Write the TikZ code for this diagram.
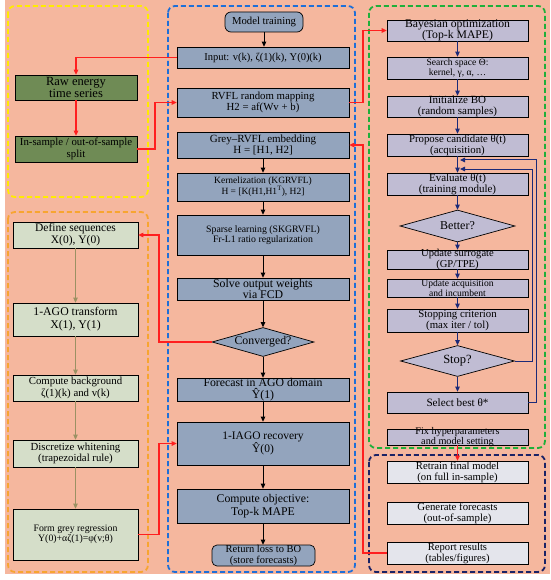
\documentclass[tikz,border=0pt]{standalone}
\usepackage{fontspec}
\setmainfont{Liberation Serif}
\usetikzlibrary{arrows.meta,shapes.geometric,calc}
\definecolor{bgsal}{HTML}{F5B79E}
\definecolor{dgreen}{HTML}{6F8B55}
\definecolor{lgreen}{HTML}{D5DEC9}
\definecolor{mblue}{HTML}{93A4BD}
\definecolor{lav}{HTML}{C0BCD3}
\definecolor{lgrey}{HTML}{E4E5EC}
\definecolor{yelc}{HTML}{FFEB00}
\definecolor{bluec}{HTML}{1E6FD8}
\definecolor{greenc}{HTML}{1FAF3A}
\definecolor{orangec}{HTML}{F7A531}
\definecolor{navyc}{HTML}{1A2366}
\definecolor{redc}{HTML}{FF1F1F}
\definecolor{navyarr}{HTML}{1B2A78}
\definecolor{olivec}{HTML}{9B9163}
\newcommand{\fsz}[2]{\fontsize{#1}{#2}\selectfont}
\begin{document}
\begin{tikzpicture}[x=1pt,y=-1pt,
  bx/.style={draw=black, line width=0.7pt, rectangle, align=center, inner sep=0.5pt, text=black},
  dgbox/.style={bx, fill=dgreen, minimum width=122pt},
  lgbox/.style={bx, fill=lgreen, minimum width=125pt},
  mbbox/.style={bx, fill=mblue, minimum width=172pt},
  lvbox/.style={bx, fill=lav, minimum width=141pt},
  lgrbox/.style={bx, fill=lgrey, minimum width=141pt},
  txt/.style={align=center, inner sep=0pt, text=black},
  region/.style={dashed, dash pattern=on 5pt off 3pt, line width=1.8pt, rounded corners=7pt},
  redarr/.style={draw=redc, line width=1.1pt, -{Triangle[length=5pt,width=4.5pt]}},
  blkarr/.style={draw=black, line width=1pt, -{Triangle[length=5pt,width=4.5pt]}},
  navarr/.style={draw=navyarr, line width=1pt, -{Triangle[length=5pt,width=4.5pt]}},
  olarr/.style={draw=olivec, line width=1pt, -{Triangle[length=5pt,width=4.5pt]}},
  dia/.style={draw=black, line width=0.7pt, diamond, aspect=3.5, inner sep=0pt, text=black}
]
\useasboundingbox (0,0) rectangle (550,580);
\fill[white] (0,0) rectangle (550,580);
\fill[bgsal] (5,0) rectangle (550,574);

% regions
\draw[region, draw=yelc] (8,6) rectangle (148,197);
\draw[region, draw=orangec] (8,212) rectangle (148,572);
\draw[region, draw=bluec] (168,6) rectangle (355,572);
\draw[region, draw=greenc] (369,6) rectangle (545,448);
\draw[region, draw=navyc] (369,455) rectangle (545,572);

% coordinates for red routing
\coordinate (rx) at (363,0);
\coordinate (lx) at (159,0);
\coordinate (sx) at (155,0);

% left column
\node[dgbox, minimum height=25pt, font={\fsz{12.5}{12.5}}] (raw) at (76,87.5) {Raw energy\\time series};
\node[dgbox, minimum height=26pt, font={\fsz{10.8}{11.5}}] (split) at (76,149) {In-sample / out-of-sample\\split};

\node[lgbox, minimum height=26pt, font={\fsz{11.5}{12}}] (def) at (75.5,235) {Define sequences\\X(0), Y(0)};
\node[lgbox, minimum height=33pt, font={\fsz{11.8}{13}}] (ago) at (75.5,319.5) {1-AGO transform\\X(1), Y(1)};
\node[lgbox, minimum height=26pt, font={\fsz{10.8}{11.5}}] (bg) at (75.5,388) {Compute background\\ζ(1)(k) and v(k)};
\node[lgbox, minimum height=27pt, font={\fsz{10.8}{11.5}}] (disc) at (75.5,453.5) {Discretize whitening\\(trapezoidal rule)};
\node[lgbox, minimum height=51pt, font={\fsz{9.8}{10.5}}] (form) at (75.5,534.5) {Form grey regression\\Y(0)+αζ(1)=φ(v;θ)};

% middle column
\node[bx, fill=mblue, rounded corners=6pt, minimum width=78pt, minimum height=20pt, font={\fsz{10.7}{11}}] (mt) at (264,22) {Model training};
\node[mbbox, minimum height=21pt, font={\fsz{10.5}{11}}] (input) at (263,57.5) {Input: v(k), ζ(1)(k), Y(0)(k)};
\node[mbbox, minimum height=29pt, font={\fsz{10.8}{11.5}}] (rvfl) at (263,102.5) {RVFL random mapping\\H2 = af(Wv + b)};
\node[mbbox, minimum height=26pt, font={\fsz{11}{11.5}}] (grey) at (263,145) {Grey–RVFL embedding\\H = [H1, H2]};
\node[mbbox, minimum height=28pt, font={\fsz{9.5}{11}}] (kern) at (263,187) {Kernelization (KGRVFL)\\H = [K(H1,H1\textsuperscript{T}), H2]};
\node[mbbox, minimum height=40pt, font={\fsz{9.8}{10.5}}] (sparse) at (263,235) {Sparse learning (SKGRVFL)\\Fr-L1 ratio regularization};
\node[mbbox, minimum height=22pt] (solve) at (263,289) {};
\node[txt, font={\fsz{11.8}{11.5}}] (solveT) at (solve) {Solve output weights\\via FCD};
\node[dia, fill=mblue, minimum width=102pt, minimum height=29pt, font={\fsz{11.8}{12}}] (conv) at (263,342) {Converged?};
\node[mbbox, minimum height=23pt] (fore) at (263,389.5) {};
\node[txt, font={\fsz{11.8}{11.5}}] (foreT) at (fore) {Forecast in AGO domain\\Ŷ(1)};
\node[mbbox, minimum height=43pt, font={\fsz{11.5}{12.5}}] (iago) at (263,443.5) {1-IAGO recovery\\Ŷ(0)};
\node[mbbox, minimum height=34pt, font={\fsz{11.8}{13}}] (comp) at (263,506) {Compute objective:\\Top-k MAPE};
\node[bx, fill=mblue, rounded corners=5pt, minimum width=103pt, minimum height=21pt] (ret) at (263.5,555.5) {};
\node[txt, font={\fsz{10.5}{10.5}}] (retT) at (ret) {Return loss to BO\\(store forecasts)};

% right column
\node[lvbox, minimum height=21pt] (bo) at (457.5,30.5) {};
\node[txt, font={\fsz{11.7}{11.5}}] (boT) at (bo) {Bayesian optimization\\(Top-k MAPE)};
\node[lvbox, minimum height=22pt, font={\fsz{9.6}{10.5}}] (ss) at (457.5,68) {Search space Θ:\\kernel, γ, α, …};
\node[lvbox, minimum height=21pt] (init) at (457.5,106.5) {};
\node[txt, font={\fsz{11}{11}}] (initT) at (init) {Initialize BO\\(random samples)};
\node[lvbox, minimum height=22pt] (prop) at (457.5,145) {};
\node[txt, font={\fsz{10.8}{11}}] (propT) at (prop) {Propose candidate θ(t)\\(acquisition)};
\node[lvbox, minimum height=22pt] (eval) at (457.5,184) {};
\node[txt, font={\fsz{11}{11}}] (evalT) at (eval) {Evaluate θ(t)\\(training module)};
\node[dia, fill=lav, minimum width=115pt, minimum height=32pt, font={\fsz{12}{12}}] (better) at (457.5,226) {Better?};
\node[lvbox, minimum height=19pt] (us) at (457.5,259.5) {};
\node[txt, font={\fsz{10.6}{10.5}}] (usT) at (us) {Update surrogate\\(GP/TPE)};
\node[lvbox, minimum height=18pt] (ua) at (457.5,288) {};
\node[txt, font={\fsz{9.6}{9.8}}] (uaT) at (ua) {Update acquisition\\and incumbent};
\node[lvbox, minimum height=23pt] (sc) at (457.5,320.5) {};
\node[txt, font={\fsz{10.8}{11}}] (scT) at (sc) {Stopping criterion\\(max iter / tol)};
\node[dia, fill=lav, minimum width=114pt, minimum height=31pt, font={\fsz{12.5}{12.5}}] (stop) at (457.5,361) {Stop?};
\node[lvbox, minimum height=21pt, font={\fsz{11.2}{11}}] (sel) at (457.5,402.5) {Select best θ*};
\node[lvbox, minimum height=16pt] (fix) at (457.5,437) {};
\node[txt, font={\fsz{10.2}{10.5}}] (fixT) at (fix) {Fix hyperparameters\\and model setting};

\node[lgrbox, minimum height=22pt] (retr) at (457.5,472) {};
\node[txt, font={\fsz{10.7}{11}}] (retrT) at (retr) {Retrain final model\\(on full in-sample)};
\node[lgrbox, minimum height=22pt] (gen) at (457.5,513) {};
\node[txt, font={\fsz{10.8}{11}}] (genT) at (gen) {Generate forecasts\\(out-of-sample)};
\node[lgrbox, minimum height=22pt] (rep) at (457.5,553) {};
\node[txt, font={\fsz{10.6}{11}}] (repT) at (rep) {Report results\\(tables/figures)};

% left arrows
\draw[redarr] (raw) -- (split);
\draw[olarr] (def) -- (ago);
\draw[olarr] (ago) -- (bg);
\draw[olarr] (bg) -- (disc);
\draw[olarr] (disc) -- (form);

% middle arrows
\draw[blkarr] (mt) -- (mt |- input.north);
\draw[blkarr] (grey) -- (kern);
\draw[blkarr] (kern) -- (sparse);
\draw[blkarr] (sparse) -- (solve);
\draw[blkarr] (solve) -- (conv);
\draw[blkarr] (conv) -- (fore);
\draw[blkarr] (fore) -- (iago);
\draw[blkarr] (iago) -- (comp);
\draw[blkarr] (comp) -- (comp |- ret.north);

% right arrows
\draw[navarr] (bo) -- (ss);
\draw[navarr] (ss) -- (init);
\draw[navarr] (init) -- (prop);
\draw[navarr] (prop) -- (eval);
\draw[navarr] (eval) -- (better);
\draw[navarr] (better) -- (us);
\draw[navarr] (us) -- (ua);
\draw[navarr] (ua) -- (sc);
\draw[navarr] (sc) -- (stop);
\draw[navarr] (stop) -- (sel);
\coordinate (lp1) at (460,169);
\coordinate (lp2) at (460,160);
\draw[navarr] (stop.east) -- (532,361) |- (lp1);
\draw[navarr] (sel.east) -- (536,402.5) |- (lp2);

% red connectors
\draw[redarr] (input.west) -| (raw.north);
\draw[redarr] (split.east) -- (split.east -| sx) |- (rvfl.west);
\draw[redarr] (rvfl.east) -- (rvfl.east -| rx) |- (bo.west);
\draw[redarr] (rep.west) -- (rep.west -| rx) |- (grey.east);
\draw[redarr] (conv.west) -- (conv.west -| lx) |- (def.east);
\draw[redarr] (form.east) -- (form.east -| lx) |- (iago.west);
\draw[redarr] (fix) -- (retr);
\end{tikzpicture}
\end{document}
